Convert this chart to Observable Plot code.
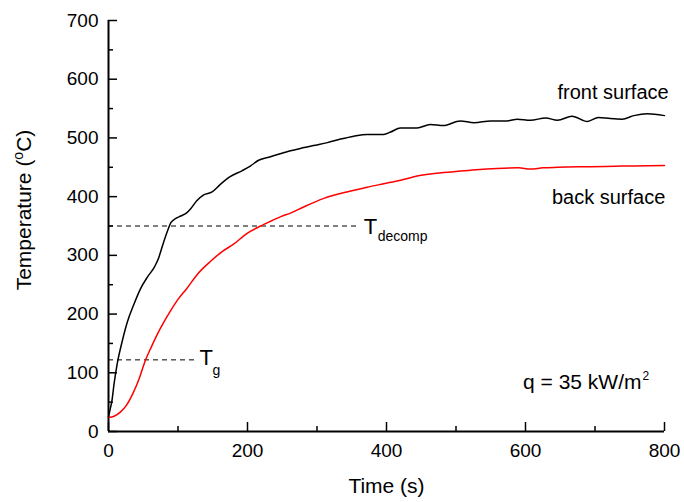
<!DOCTYPE html>
<html>
<head>
<meta charset="utf-8">
<script src="https://cdn.jsdelivr.net/npm/d3@7"></script>
<script src="https://cdn.jsdelivr.net/npm/@observablehq/plot@0.6"></script>
<style>
  html, body { margin: 0; padding: 0; background: #fff; }
  #chart svg { display: block; }
</style>
</head>
<body>
<div id="chart"></div>
<script>
// ---- data ----
const timeFront = [0, 3, 5, 8, 12.5, 20, 27, 36, 46, 56, 66, 72, 76, 80, 85, 90, 97, 104, 112, 118, 127, 137, 149, 161, 175, 192, 204, 216, 233, 247, 262, 276, 295, 315, 334, 353, 372, 396, 406, 420, 444, 463, 482, 506, 526, 550, 574, 588, 607, 629, 646, 667, 689, 705, 722, 739, 756, 775, 800];
const tempFront = [25, 41, 53, 81, 115, 155, 186, 215, 243, 263, 280, 295, 310, 325, 342, 356, 363, 367, 372, 379, 393, 403, 408, 421, 434, 444, 452, 462, 468, 473, 478, 482, 487, 492, 498, 503, 506, 506, 510, 517, 517, 523, 521, 529, 526, 529, 529, 532, 530, 534, 530, 537, 528, 535, 533, 532, 538, 541, 538];

const timeBack = [0, 8, 17, 26, 36, 45, 53, 62, 70, 80, 89, 100, 113, 128, 147, 163, 180, 200, 219, 235, 248, 262, 280, 310, 343, 372, 396, 420, 444, 482, 521, 559, 590, 607, 625, 646, 694, 741, 800];
const tempBack = [24, 26, 33, 45, 67, 93, 121, 145, 165, 187, 205, 225, 244, 268, 290, 306, 319, 338, 350, 359, 366, 372, 382, 397, 408, 416, 422, 428, 435, 441, 445, 448, 449, 447, 449, 450, 451, 452, 453];

const xTicks = [0, 200, 400, 600, 800];
const xMinorTicks = [100, 300, 500, 700];
const yTicks = [0, 100, 200, 300, 400, 500, 600, 700];
const yMinorTicks = [50, 150, 250, 350, 450, 550, 650];

const thresholdTemp = [350, 122];
const thresholdEnd = [360, 128];
const thresholdSub = ["decomp", "g"];

const seriesNames = ["front surface", "back surface"];
const seriesLabelX = [646, 638];
const seriesLabelY = [567, 387];

const fluxText = "q = 35 kW/m";
const fluxSup = "2";
const fluxX = 800;
const fluxY = 72;

// ---- tables ----
const front = timeFront.map((t, i) => ({t, T: tempFront[i]}));
const back = timeBack.map((t, i) => ({t, T: tempBack[i]}));
const thresholds = thresholdTemp.map((T, i) => ({T, end: thresholdEnd[i], sub: thresholdSub[i]}));
const seriesLabels = seriesNames.map((name, i) => ({name, x: seriesLabelX[i], y: seriesLabelY[i]}));

const font = "'Liberation Sans', Arial, Helvetica, sans-serif";

const chart = Plot.plot({
  width: 684,
  height: 502,
  marginLeft: 108,
  marginRight: 20,
  marginTop: 20,
  marginBottom: 71,
  style: {fontFamily: font, background: "#fff", color: "#000"},
  x: {domain: [0, 800]},
  y: {domain: [0, 700]},
  marks: [
    // tick labels
    Plot.axisY(yTicks, {tickSize: 0, tickPadding: 10, fontSize: 19, label: null}),
    Plot.axisX(xTicks, {tickSize: 0, tickPadding: 12, fontSize: 19, label: null}),
    // inward ticks
    Plot.axisY(yTicks, {tickSize: -9, strokeWidth: 1.5, fill: "none", label: null}),
    Plot.axisY(yMinorTicks, {tickSize: -5, strokeWidth: 1.5, fill: "none", label: null}),
    Plot.axisX(xTicks, {tickSize: -9, strokeWidth: 1.5, fill: "none", label: null}),
    Plot.axisX(xMinorTicks, {tickSize: -5, strokeWidth: 1.5, fill: "none", label: null}),
    // axis lines
    Plot.ruleX([0], {stroke: "#000", strokeWidth: 2}),
    Plot.ruleY([0], {stroke: "#000", strokeWidth: 2}),
    // threshold lines
    Plot.ruleY(thresholds, {y: "T", x1: 0, x2: "end", stroke: "#000", strokeWidth: 1, strokeDasharray: "5,4"}),
    // curves
    Plot.line(back, {x: "t", y: "T", stroke: "#ff0000", strokeWidth: 1.5, curve: "monotone-x"}),
    Plot.line(front, {x: "t", y: "T", stroke: "#000", strokeWidth: 1.5, curve: "monotone-x"}),
    // threshold labels
    Plot.text([thresholds[0]], {x: "end", y: "T", text: () => "T", textAnchor: "start", lineAnchor: "bottom", dx: 5, dy: 8, fontSize: 22}),
    Plot.text([thresholds[0]], {x: "end", y: "T", text: "sub", textAnchor: "start", lineAnchor: "bottom", dx: 19, dy: 15, fontSize: 14}),
    Plot.text([thresholds[1]], {x: "end", y: "T", text: () => "T", textAnchor: "start", lineAnchor: "bottom", dx: 2, dy: 5, fontSize: 22}),
    Plot.text([thresholds[1]], {x: "end", y: "T", text: "sub", textAnchor: "start", lineAnchor: "bottom", dx: 15, dy: 15, fontSize: 14}),
    // series labels
    Plot.text(seriesLabels, {x: "x", y: "y", text: "name", textAnchor: "start", lineAnchor: "bottom", fontSize: 20}),
    // flux annotation
    Plot.text([fluxText], {x: () => fluxX, y: () => fluxY, text: d => d, textAnchor: "end", lineAnchor: "bottom", dx: -23, fontSize: 21}),
    Plot.text([fluxSup], {x: () => fluxX, y: () => fluxY, text: d => d, textAnchor: "start", lineAnchor: "bottom", dx: -22, dy: -9, fontSize: 12}),
    // x-axis title
    Plot.text(["Time (s)"], {frameAnchor: "bottom", text: d => d, lineAnchor: "bottom", dy: 61, fontSize: 21})
  ]
});

document.getElementById("chart").appendChild(chart);

// y-axis title with superscript "o"
const svg = d3.select(chart);
const yTitle = svg.append("text")
  .attr("transform", "translate(31,210) rotate(-90)")
  .attr("text-anchor", "middle")
  .attr("font-family", font)
  .attr("font-size", 21)
  .attr("fill", "#000");
yTitle.append("tspan").text("Temperature (");
yTitle.append("tspan").attr("font-size", 14).attr("dy", -8).text("o");
yTitle.append("tspan").attr("dy", 8).text("C)");
</script>
</body>
</html>
